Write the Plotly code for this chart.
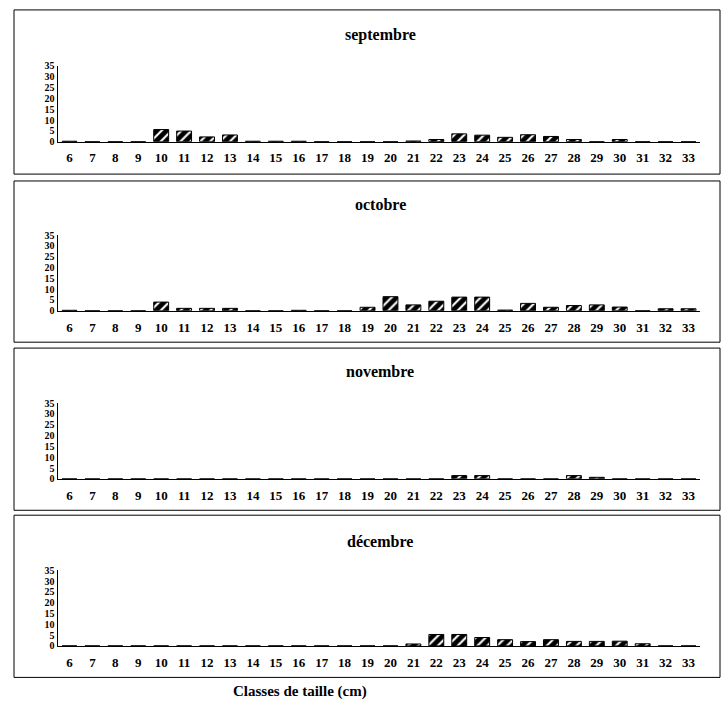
import plotly.graph_objects as go

W, H = 721, 706

classes = list(range(6, 34))
class_labels = [str(c) for c in classes]
months = ["septembre", "octobre", "novembre", "décembre"]

septembre = [0.2, 0, 0, 0, 5.6, 4.9, 2.2, 3.1, 0.2, 0.2, 0.2, 0, 0, 0,
             0, 0.3, 1.0, 3.6, 3.0, 2.0, 3.2, 2.4, 1.0, 0, 1.0, 0, 0, 0]
octobre = [0.2, 0, 0, 0, 4.0, 1.1, 1.1, 1.1, 0, 0, 0.2, 0, 0, 1.6,
           6.5, 2.7, 4.4, 6.3, 6.3, 0.3, 3.4, 1.6, 2.4, 2.7, 1.7, 0, 0.9, 0.9]
novembre = [0, 0, 0, 0, 0, 0, 0, 0, 0, 0, 0, 0, 0, 0,
            0, 0, 0, 1.5, 1.5, 0, 0, 0, 1.5, 0.7, 0, 0, 0, 0]
decembre = [0, 0, 0, 0, 0, 0, 0, 0, 0, 0, 0, 0, 0, 0,
            0, 0.9, 5.3, 5.3, 3.9, 2.9, 2.0, 2.9, 2.1, 2.1, 2.2, 1.0, 0, 0]
series = [septembre, octobre, novembre, decembre]

y_ticks = [0, 5, 10, 15, 20, 25, 30, 35]
x_title = "Classes de taille (cm)"

FONT = "Liberation Serif"

# reference pixel layout
zero_px = [138, 310, 481, 651]
top_px = [61, 233, 404, 574]
title_px = [30, 202, 372, 545]
box_px = [(4, 171), (178, 342), (348, 513), (518, 683)]
x_left, x_right = 58, 700

def py(p):
    return 1 - p / H

def px(p):
    return p / W

fig = go.Figure()
shapes = []
annotations = []
for i, (m, vals) in enumerate(zip(months, series)):
    n = i + 1
    xa = "x" if n == 1 else f"x{n}"
    ya = "y" if n == 1 else f"y{n}"
    fig.add_trace(go.Bar(
        x=classes, y=vals, xaxis=xa, yaxis=ya, width=0.65,
        marker=dict(color="black", line=dict(color="black", width=1),
                    pattern=dict(shape="/", fgcolor="white", bgcolor="black",
                                 size=7, solidity=0.3, fillmode="replace")),
        showlegend=False, hoverinfo="skip"))
    xkey = "xaxis" if n == 1 else f"xaxis{n}"
    ykey = "yaxis" if n == 1 else f"yaxis{n}"
    fig.layout[xkey] = dict(
        domain=[px(x_left), px(x_right)], range=[5.5, 33.5], anchor=ya,
        tickvals=classes, ticktext=[f"<b>{t}</b>" for t in class_labels],
        showgrid=False, zeroline=False,
        showline=True, linecolor="black", linewidth=1.2,
        ticks="outside", ticklen=4, tickcolor="rgba(0,0,0,0)",
        tickfont=dict(family=FONT, size=13, color="black"), fixedrange=True)
    fig.layout[ykey] = dict(
        domain=[py(zero_px[i]), py(top_px[i])], range=[0, 35], anchor=xa,
        tickvals=y_ticks, ticktext=[f"<b>{t}</b>" for t in y_ticks],
        showgrid=False, zeroline=False,
        showline=True, linecolor="black", linewidth=1.5, ticks="",
        tickfont=dict(family=FONT, size=10, color="black"), fixedrange=True)
    annotations.append(dict(
        text=f"<b>{m}</b>", x=px(380), y=py(title_px[i]), xref="paper", yref="paper",
        showarrow=False, font=dict(family=FONT, size=16, color="black"),
        xanchor="center", yanchor="middle"))
    t, b = box_px[i]
    shapes.append(dict(type="rect", xref="paper", yref="paper",
                       x0=px(14), x1=px(720), y0=py(b), y1=py(t),
                       line=dict(color="black", width=1)))

annotations.append(dict(
    text=f"<b>{x_title}</b>", x=px(300), y=py(697), xref="paper", yref="paper",
    showarrow=False, font=dict(family=FONT, size=15, color="black"),
    xanchor="center", yanchor="middle"))

fig.update_layout(
    width=W, height=H, margin=dict(l=0, r=0, t=0, b=0),
    paper_bgcolor="white", plot_bgcolor="white",
    shapes=shapes, annotations=annotations, bargap=0.35,
    hovermode=False,
)
fig.write_html(
    "out.html",
    config={"displayModeBar": False, "staticPlot": True},
    post_script="document.body.style.margin='0';document.body.style.overflow='hidden';",
)
